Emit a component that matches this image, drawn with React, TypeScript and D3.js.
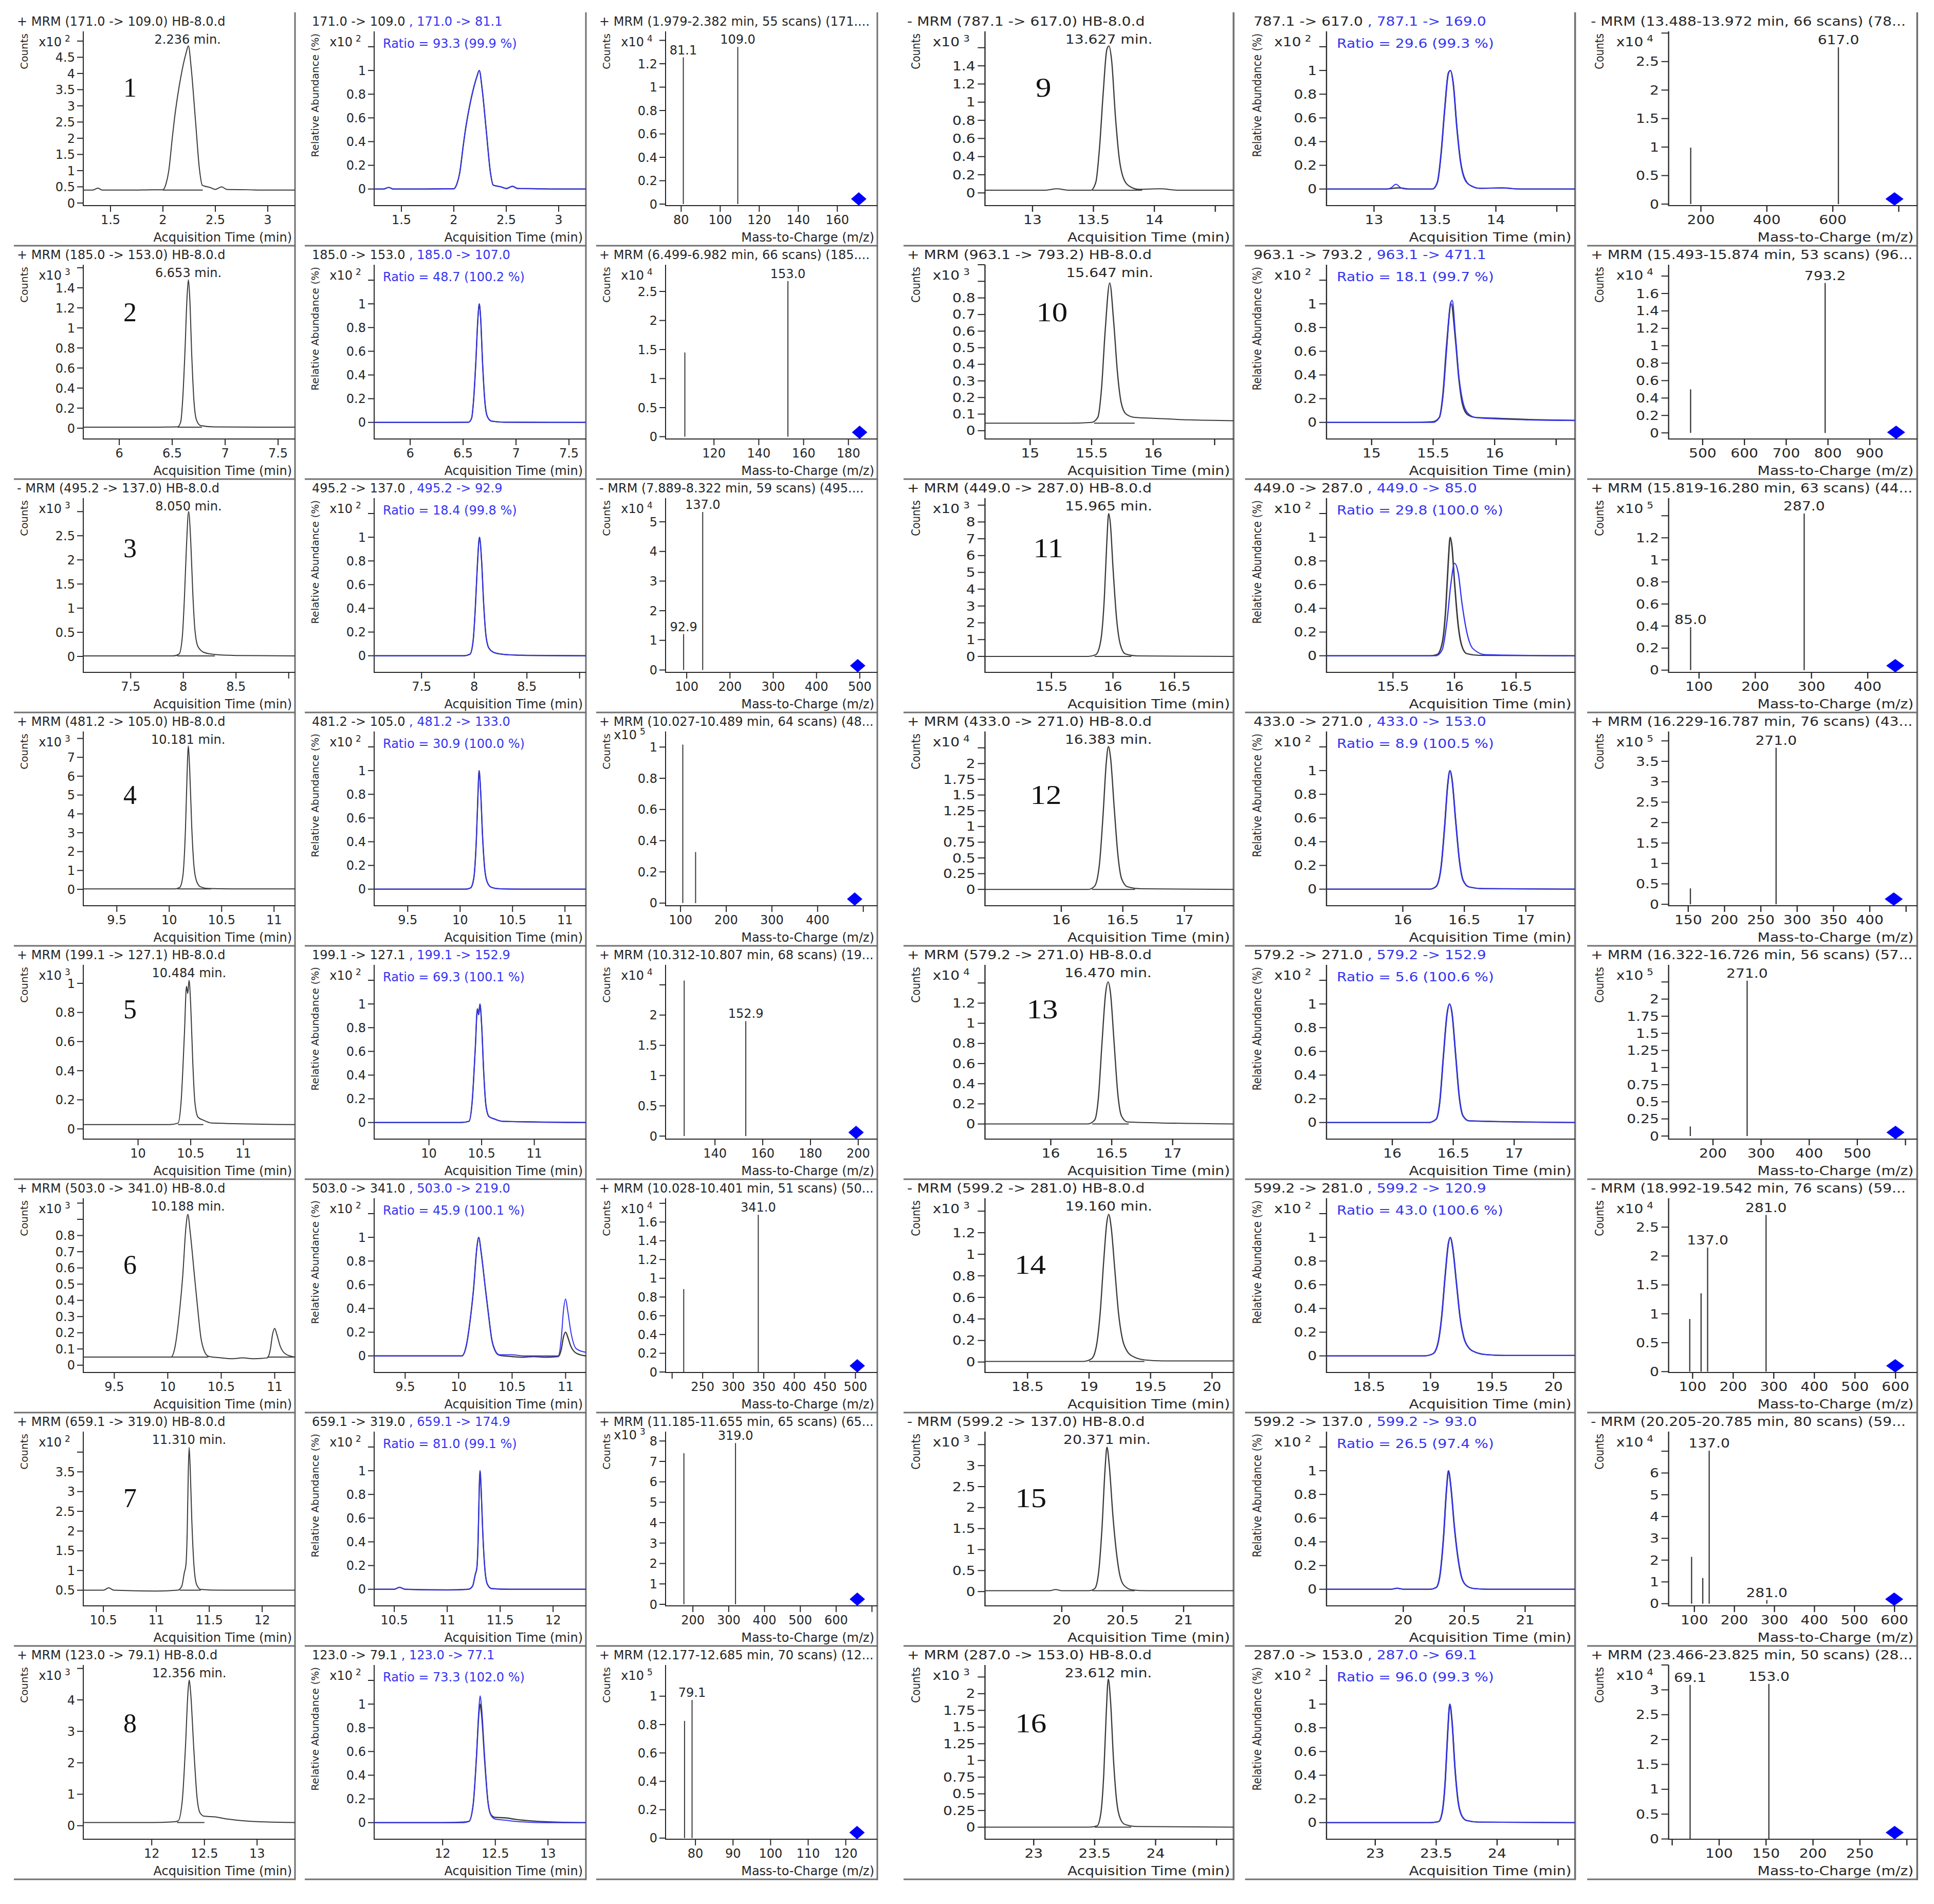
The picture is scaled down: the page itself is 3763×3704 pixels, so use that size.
import React from 'react';
import * as d3 from 'd3';

// ---------- compounds: 1-8 in the left block, 9-16 in the right block ----------
const compoundIds = [1, 2, 3, 4, 5, 6, 7, 8, 9, 10, 11, 12, 13, 14, 15, 16];
const polarity = ['+', '+', '-', '+', '+', '+', '+', '+', '-', '+', '+', '+', '+', '-', '-', '+'];
const quantTransitions = [
  '171.0 -> 109.0', '185.0 -> 153.0', '495.2 -> 137.0', '481.2 -> 105.0',
  '199.1 -> 127.1', '503.0 -> 341.0', '659.1 -> 319.0', '123.0 -> 79.1',
  '787.1 -> 617.0', '963.1 -> 793.2', '449.0 -> 287.0', '433.0 -> 271.0',
  '579.2 -> 271.0', '599.2 -> 281.0', '599.2 -> 137.0', '287.0 -> 153.0',
];
const qualTransitions = [
  '171.0 -> 81.1', '185.0 -> 107.0', '495.2 -> 92.9', '481.2 -> 133.0',
  '199.1 -> 152.9', '503.0 -> 219.0', '659.1 -> 174.9', '123.0 -> 77.1',
  '787.1 -> 169.0', '963.1 -> 471.1', '449.0 -> 85.0', '433.0 -> 153.0',
  '579.2 -> 152.9', '599.2 -> 120.9', '599.2 -> 93.0', '287.0 -> 69.1',
];
const retentionTimes = [2.236, 6.653, 8.05, 10.181, 10.484, 10.188, 11.31, 12.356,
  13.627, 15.647, 15.965, 16.383, 16.47, 19.16, 20.371, 23.612];
const ratioValues = [
  '93.3 (99.9 %)', '48.7 (100.2 %)', '18.4 (99.8 %)', '30.9 (100.0 %)',
  '69.3 (100.1 %)', '45.9 (100.1 %)', '81.0 (99.1 %)', '73.3 (102.0 %)',
  '29.6 (99.3 %)', '18.1 (99.7 %)', '29.8 (100.0 %)', '8.9 (100.5 %)',
  '5.6 (100.6 %)', '43.0 (100.6 %)', '26.5 (97.4 %)', '96.0 (99.3 %)',
];

// ---------- chromatograms ----------
const chromExp = [2, 3, 3, 3, 3, 3, 2, 3, 3, 3, 3, 4, 4, 3, 3, 3];
const chromYDomains = [
  [-0.08, 5.3], [-0.108, 1.63], [-0.33, 3.28], [-0.87, 8.37],
  [-0.07, 1.127], [-0.045, 1.03], [0.104, 4.52], [-0.43, 5.11],
  [-0.14, 1.78], [-0.05, 1.0], [-0.95, 9.42], [-0.26, 2.51],
  [-0.15, 1.58], [-0.097, 1.52], [-0.34, 3.81], [-0.18, 2.43],
];
const chromYTicks = [
  [0, 0.5, 1, 1.5, 2, 2.5, 3, 3.5, 4, 4.5],
  [0, 0.2, 0.4, 0.6, 0.8, 1, 1.2, 1.4],
  [0, 0.5, 1, 1.5, 2, 2.5],
  [0, 1, 2, 3, 4, 5, 6, 7],
  [0, 0.2, 0.4, 0.6, 0.8, 1],
  [0, 0.1, 0.2, 0.3, 0.4, 0.5, 0.6, 0.7, 0.8],
  [0.5, 1, 1.5, 2, 2.5, 3, 3.5],
  [0, 1, 2, 3, 4],
  [0, 0.2, 0.4, 0.6, 0.8, 1, 1.2, 1.4],
  [0, 0.1, 0.2, 0.3, 0.4, 0.5, 0.6, 0.7, 0.8],
  [0, 1, 2, 3, 4, 5, 6, 7, 8],
  [0, 0.25, 0.5, 0.75, 1, 1.25, 1.5, 1.75, 2],
  [0, 0.2, 0.4, 0.6, 0.8, 1, 1.2],
  [0, 0.2, 0.4, 0.6, 0.8, 1, 1.2],
  [0, 0.5, 1, 1.5, 2, 2.5, 3],
  [0, 0.25, 0.5, 0.75, 1, 1.25, 1.5, 1.75, 2],
];
const chromYUnlabeled = [[5], [1.6], [3], [8], [], [0.9, 1.0], [4], [5], [1.6], [0.9, 1.0], [9], [2.25], [1.4], [1.4], [3.5], [2.25]];
const timeDomains = [
  [1.24, 3.26], [5.66, 7.66], [7.05, 9.06], [9.18, 11.2],
  [9.48, 11.49], [9.21, 11.19], [10.31, 12.31], [11.35, 13.36],
  [12.61, 14.65], [14.633, 16.654], [14.96, 16.98], [15.38, 17.4],
  [15.46, 17.5], [18.154, 20.175], [19.37, 21.41], [22.6, 24.64],
];
const timeTicks = [
  [1.5, 2, 2.5, 3], [6, 6.5, 7, 7.5], [7.5, 8, 8.5], [9.5, 10, 10.5, 11],
  [10, 10.5, 11], [9.5, 10, 10.5, 11], [10.5, 11, 11.5, 12], [12, 12.5, 13],
  [13, 13.5, 14], [15, 15.5, 16], [15.5, 16, 16.5], [16, 16.5, 17],
  [16, 16.5, 17], [18.5, 19, 19.5, 20], [20, 20.5, 21], [23, 23.5, 24],
];
const timeUnlabeled = [[], [], [9], [], [], [], [], [], [14.5], [16.5], [], [], [], [], [], [24.5]];
const baselines = [0.4, 0.01, 0.01, 0.02, 0.03, 0.05, 0.5, 0.1, 0.03, 0.045, 0, 0, 0, 0.005, 0.02, 0];
const peakWindows = [
  [[2.0, 2.38]], [[6.55, 6.78]], [[7.94, 8.3]], [[10.08, 10.4]],
  [[10.38, 10.62]], [[10.03, 10.38], [10.93, 11.19]], [[11.22, 11.42]], [[12.24, 12.5]],
  [[13.49, 13.9]], [[15.52, 15.85]], [[15.85, 16.15]], [[16.25, 16.6]],
  [[16.34, 16.64]], [[19.0, 19.45]], [[20.25, 20.6]], [[23.5, 23.8]],
];
const chromTraces = [
  [[1.24, 0.4], [1.33, 0.4], [1.38, 0.46], [1.42, 0.4], [1.7, 0.4], [1.9, 0.41], [2.0, 0.41], [2.03, 0.6], [2.055, 0.98], [2.09, 2.03], [2.11, 2.6], [2.14, 3.3], [2.17, 3.88], [2.22, 4.62], [2.243, 4.85], [2.27, 4.16], [2.31, 2.57], [2.35, 1.0], [2.375, 0.55], [2.4, 0.52], [2.45, 0.48], [2.5, 0.42], [2.56, 0.5], [2.61, 0.42], [2.8, 0.41], [3.0, 0.4], [3.26, 0.4]],
  [[5.66, 0.01], [6.3, 0.01], [6.55, 0.012], [6.58, 0.06], [6.6, 0.3], [6.62, 0.75], [6.64, 1.3], [6.653, 1.48], [6.665, 1.32], [6.685, 0.72], [6.705, 0.28], [6.73, 0.08], [6.77, 0.025], [6.9, 0.012], [7.66, 0.01]],
  [[7.05, 0.01], [7.9, 0.01], [7.96, 0.05], [7.99, 0.4], [8.01, 1.2], [8.03, 2.3], [8.05, 3.0], [8.07, 2.4], [8.09, 1.3], [8.11, 0.55], [8.14, 0.2], [8.2, 0.08], [8.3, 0.04], [8.5, 0.02], [9.06, 0.01]],
  [[9.18, 0.02], [10.05, 0.02], [10.1, 0.1], [10.13, 0.7], [10.155, 3.2], [10.17, 6.0], [10.181, 7.6], [10.195, 6.4], [10.215, 3.3], [10.235, 1.3], [10.26, 0.45], [10.3, 0.13], [10.38, 0.04], [10.6, 0.02], [11.2, 0.02]],
  [[9.48, 0.03], [10.3, 0.03], [10.38, 0.04], [10.41, 0.2], [10.44, 0.65], [10.46, 0.98], [10.472, 0.93], [10.484, 1.02], [10.5, 0.85], [10.52, 0.45], [10.54, 0.18], [10.57, 0.08], [10.62, 0.06], [10.7, 0.04], [11.49, 0.03]],
  [[9.21, 0.05], [9.9, 0.05], [10.03, 0.05], [10.07, 0.12], [10.11, 0.33], [10.14, 0.55], [10.17, 0.85], [10.188, 0.93], [10.21, 0.82], [10.25, 0.55], [10.28, 0.35], [10.31, 0.17], [10.34, 0.09], [10.38, 0.055], [10.5, 0.045], [10.6, 0.04], [10.7, 0.045], [10.8, 0.04], [10.93, 0.045], [10.96, 0.1], [10.98, 0.19], [11.0, 0.227], [11.02, 0.19], [11.05, 0.12], [11.1, 0.07], [11.19, 0.05]],
  [[10.31, 0.5], [10.5, 0.5], [10.55, 0.56], [10.6, 0.5], [11.0, 0.48], [11.2, 0.5], [11.24, 0.6], [11.265, 0.95], [11.28, 1.15], [11.292, 2.0], [11.302, 3.5], [11.31, 4.12], [11.32, 3.6], [11.335, 2.3], [11.355, 1.15], [11.38, 0.65], [11.42, 0.52], [11.6, 0.5], [12.31, 0.5]],
  [[11.35, 0.1], [12.0, 0.1], [12.2, 0.12], [12.25, 0.15], [12.29, 0.8], [12.32, 2.5], [12.345, 4.3], [12.356, 4.63], [12.37, 4.2], [12.4, 2.4], [12.43, 0.9], [12.46, 0.4], [12.5, 0.3], [12.6, 0.28], [12.7, 0.22], [12.8, 0.18], [13.0, 0.13], [13.36, 0.1]],
  [[12.61, 0.03], [13.1, 0.03], [13.2, 0.045], [13.3, 0.03], [13.48, 0.03], [13.52, 0.12], [13.55, 0.5], [13.58, 1.1], [13.61, 1.58], [13.627, 1.62], [13.65, 1.45], [13.68, 0.85], [13.71, 0.4], [13.75, 0.15], [13.8, 0.07], [13.87, 0.04], [14.05, 0.045], [14.2, 0.03], [14.65, 0.03]],
  [[14.633, 0.045], [15.3, 0.045], [15.5, 0.05], [15.55, 0.08], [15.58, 0.25], [15.61, 0.6], [15.647, 0.89], [15.68, 0.65], [15.71, 0.35], [15.74, 0.17], [15.78, 0.1], [15.85, 0.08], [16.0, 0.075], [16.3, 0.065], [16.654, 0.06]],
  [[14.96, 0], [15.8, 0], [15.86, 0.1], [15.9, 0.9], [15.93, 3.5], [15.95, 6.8], [15.965, 8.5], [15.98, 7.8], [16.0, 5.3], [16.03, 2.2], [16.06, 0.7], [16.1, 0.15], [16.2, 0.03], [16.98, 0]],
  [[15.38, 0], [16.22, 0], [16.27, 0.05], [16.31, 0.4], [16.34, 1.2], [16.365, 2.0], [16.383, 2.27], [16.4, 2.1], [16.43, 1.3], [16.46, 0.55], [16.49, 0.17], [16.54, 0.04], [16.65, 0.01], [17.4, 0]],
  [[15.46, 0], [16.3, 0], [16.36, 0.04], [16.39, 0.25], [16.42, 0.8], [16.45, 1.3], [16.47, 1.41], [16.49, 1.3], [16.52, 0.8], [16.55, 0.3], [16.58, 0.08], [16.63, 0.02], [17.5, 0]],
  [[18.154, 0.005], [18.95, 0.005], [19.02, 0.03], [19.06, 0.15], [19.09, 0.45], [19.12, 0.95], [19.145, 1.3], [19.16, 1.37], [19.18, 1.25], [19.21, 0.85], [19.24, 0.45], [19.27, 0.22], [19.31, 0.1], [19.36, 0.05], [19.45, 0.02], [19.6, 0.01], [20.175, 0.01]],
  [[19.37, 0.02], [19.9, 0.02], [19.95, 0.05], [20.0, 0.02], [20.22, 0.02], [20.27, 0.07], [20.3, 0.4], [20.33, 1.5], [20.355, 2.9], [20.371, 3.44], [20.39, 3.0], [20.42, 1.8], [20.45, 0.9], [20.48, 0.35], [20.52, 0.12], [20.58, 0.04], [20.7, 0.02], [21.41, 0.02]],
  [[22.6, 0], [23.45, 0], [23.52, 0.02], [23.55, 0.2], [23.575, 0.8], [23.595, 1.7], [23.612, 2.22], [23.63, 1.9], [23.655, 1.0], [23.68, 0.4], [23.71, 0.13], [23.75, 0.04], [23.85, 0.01], [24.64, 0]],
];
// qualifier traces that differ visibly from the quantifier (relative units, x10^2 %)
const qualTraces = [
  null, null, null, null, null,
  [[9.21, 0], [9.9, 0], [10.03, 0], [10.07, 0.08], [10.11, 0.32], [10.14, 0.57], [10.17, 0.91], [10.188, 1.0], [10.21, 0.88], [10.25, 0.57], [10.28, 0.35], [10.31, 0.14], [10.34, 0.05], [10.38, 0.01], [10.5, 0.01], [10.6, 0], [10.7, 0], [10.8, 0], [10.93, 0], [10.96, 0.15], [10.98, 0.38], [11.0, 0.48], [11.02, 0.38], [11.05, 0.2], [11.1, 0.06], [11.19, 0.03]],
  null,
  [[11.35, 0], [12.0, 0], [12.2, 0], [12.25, 0.01], [12.29, 0.15], [12.32, 0.55], [12.345, 0.97], [12.356, 1.07], [12.37, 0.97], [12.4, 0.54], [12.43, 0.18], [12.46, 0.06], [12.5, 0.03], [12.6, 0.02], [12.7, 0.01], [13.0, 0], [13.36, 0]],
  [[12.61, 0], [13.1, 0], [13.14, 0.01], [13.18, 0.04], [13.22, 0.01], [13.26, 0], [13.48, 0], [13.52, 0.055], [13.55, 0.29], [13.58, 0.67], [13.61, 0.98], [13.627, 1.0], [13.65, 0.89], [13.68, 0.52], [13.71, 0.23], [13.75, 0.07], [13.8, 0.025], [13.87, 0.006], [14.05, 0.008], [14.2, 0], [14.65, 0]],
  [[14.633, 0], [15.5, 0], [15.55, 0.04], [15.58, 0.22], [15.61, 0.62], [15.64, 1.0], [15.655, 1.03], [15.68, 0.75], [15.71, 0.38], [15.74, 0.18], [15.78, 0.08], [15.85, 0.04], [16.0, 0.03], [16.3, 0.02], [16.654, 0.015]],
  [[14.96, 0], [15.85, 0], [15.9, 0.05], [15.94, 0.3], [15.97, 0.6], [16.0, 0.78], [16.03, 0.7], [16.06, 0.45], [16.1, 0.2], [16.15, 0.06], [16.25, 0.01], [16.98, 0]],
  null, null, null, null, null,
];

// ---------- ratio (qualifier overlay) axes ----------
const ratioYDomain = [-0.14, 1.33];
const ratioYTicks = [0, 0.2, 0.4, 0.6, 0.8, 1];
const ratioYUnlabeled = [1.2];

// ---------- product ion spectra ----------
const specTitles = [
  '+ MRM (1.979-2.382 min, 55 scans) (171....', '+ MRM (6.499-6.982 min, 66 scans) (185....',
  '- MRM (7.889-8.322 min, 59 scans) (495....', '+ MRM (10.027-10.489 min, 64 scans) (48...',
  '+ MRM (10.312-10.807 min, 68 scans) (19...', '+ MRM (10.028-10.401 min, 51 scans) (50...',
  '+ MRM (11.185-11.655 min, 65 scans) (65...', '+ MRM (12.177-12.685 min, 70 scans) (12...',
  '- MRM (13.488-13.972 min, 66 scans) (78...', '+ MRM (15.493-15.874 min, 53 scans) (96...',
  '+ MRM (15.819-16.280 min, 63 scans) (44...', '+ MRM (16.229-16.787 min, 76 scans) (43...',
  '+ MRM (16.322-16.726 min, 56 scans) (57...', '- MRM (18.992-19.542 min, 76 scans) (59...',
  '- MRM (20.205-20.785 min, 80 scans) (59...', '+ MRM (23.466-23.825 min, 50 scans) (28...',
];
const specExp = [4, 4, 4, 5, 4, 4, 3, 5, 4, 4, 5, 5, 5, 4, 4, 4];
const specYDomains = [
  [-0.013, 1.477], [-0.04, 2.96], [-0.08, 5.8], [-0.017, 1.1],
  [-0.05, 2.83], [-0.005, 1.854], [-0.075, 8.46], [-0.008, 1.22],
  [-0.027, 3.03], [-0.07, 1.93], [-0.02, 1.56], [-0.035, 4.23],
  [-0.045, 2.5], [-0.015, 3.0], [-0.1, 7.9], [-0.005, 3.5],
];
const specYTicks = [
  [0, 0.2, 0.4, 0.6, 0.8, 1, 1.2], [0, 0.5, 1, 1.5, 2, 2.5], [0, 1, 2, 3, 4, 5], [0, 0.2, 0.4, 0.6, 0.8, 1],
  [0, 0.5, 1, 1.5, 2], [0, 0.2, 0.4, 0.6, 0.8, 1, 1.2, 1.4, 1.6], [0, 1, 2, 3, 4, 5, 6, 7, 8], [0, 0.2, 0.4, 0.6, 0.8, 1],
  [0, 0.5, 1, 1.5, 2, 2.5], [0, 0.2, 0.4, 0.6, 0.8, 1, 1.2, 1.4, 1.6], [0, 0.2, 0.4, 0.6, 0.8, 1, 1.2], [0, 0.5, 1, 1.5, 2, 2.5, 3, 3.5],
  [0, 0.25, 0.5, 0.75, 1, 1.25, 1.5, 1.75, 2], [0, 0.5, 1, 1.5, 2, 2.5], [0, 1, 2, 3, 4, 5, 6], [0, 0.5, 1, 1.5, 2, 2.5, 3],
];
const specYUnlabeled = [[1.4], [], [], [], [2.5], [1.8], [], [], [3], [1.8], [1.4], [4], [2.25], [], [7], [3.5]];
const mzDomains = [
  [72, 180.5], [98.4, 192.9], [51.2, 540.5], [67.3, 530.7],
  [119.3, 208], [189.3, 535.8], [123.7, 715], [72.05, 128.4],
  [102, 856], [418.5, 1013.6], [45.9, 488], [123, 465.3],
  [107.8, 624.4], [40.9, 653.4], [35.6, 656.7], [46.2, 311],
];
const mzTicks = [
  [80, 100, 120, 140, 160], [120, 140, 160, 180], [100, 200, 300, 400, 500], [100, 200, 300, 400],
  [140, 160, 180, 200], [250, 300, 350, 400, 450, 500], [200, 300, 400, 500, 600], [80, 90, 100, 110, 120],
  [200, 400, 600], [500, 600, 700, 800, 900], [100, 200, 300, 400], [150, 200, 250, 300, 350, 400],
  [200, 300, 400, 500], [100, 200, 300, 400, 500, 600], [100, 200, 300, 400, 500, 600], [100, 150, 200, 250],
];
const mzUnlabeled = [[], [], [], [500], [], [200], [700], [], [800], [], [], [450], [600], [], [], [50, 300]];
const specPeaks = [
  [[81.1, 1.255], [109.0, 1.344]],
  [[107.0, 1.45], [153.0, 2.68]],
  [[92.9, 1.21], [137.0, 5.33]],
  [[105.0, 1.016], [133.0, 0.327]],
  [[127.1, 2.57], [152.9, 1.9]],
  [[219.0, 0.885], [341.0, 1.677]],
  [[174.9, 7.4], [319.0, 7.9]],
  [[77.1, 0.826], [79.1, 0.974]],
  [[169.0, 0.99], [617.0, 2.75]],
  [[471.1, 0.5], [793.2, 1.72]],
  [[85.0, 0.39], [287.0, 1.42]],
  [[153.0, 0.39], [271.0, 3.83]],
  [[152.9, 0.14], [271.0, 2.27]],
  [[93.0, 0.91], [120.9, 1.355], [137.0, 2.146], [281.0, 2.71]],
  [[93.0, 2.15], [120.9, 1.18], [137.0, 7.02], [281.0, 0.17]],
  [[69.1, 3.1], [153.0, 3.12]],
];
const specLabels = [
  [81.1, 109.0], [153.0], [92.9, 137.0], [], [152.9], [341.0], [319.0], [79.1],
  [617.0], [793.2], [85.0, 287.0], [271.0], [271.0], [137.0, 281.0], [137.0, 281.0], [69.1, 153.0],
];
const precursors = [171.0, 185.0, 495.2, 481.2, 199.1, 503.0, 659.1, 123.0,
  787.1, 963.1, 449.0, 433.0, 579.2, 599.2, 599.2, 287.0];

// ---------- layout ----------
const W = 3763;
const H = 3704;
const ROW0 = 24;
const ROW_H = 454;
const PANEL_W = 547;
const PANEL_DX = [0, 566, 1133];
const BLOCKS = [{ x: 27, sx: 1 }, { x: 1758, sx: 1.174 }];
const AX = 135;
const AT = 37;
const AY = 376;
const numberX = [226, 226, 226, 226, 226, 226, 226, 226, 232, 246, 240, 236, 230, 210, 211, 211];
const numberY = [146, 129, 134, 160, 123, 166, 166, 150];

const FONT = '"DejaVu Sans", "Liberation Sans", Arial, sans-serif';
const INK = '#262626';
const TRACE = '#3a3a3a';
const BLUE = '#3434f2';
const SEP = '#707070';

function Axes({ x, y, yTicks, yMinor, xTicks, xMinor, exp, yLabel, xLabel }) {
  // the exponent moves up when the highest labelled tick sits at the top of the axis
  const crowded = d3.min(yTicks, (v) => y(v)) < 72;
  const expY = crowded ? 52 : 66;
  return (
    <g fontFamily={FONT} fill={INK}>
      <line x1={AX} x2={AX} y1={AT} y2={AY + 1} stroke={INK} strokeWidth={2} />
      <line x1={AX} x2={PANEL_W} y1={AY} y2={AY} stroke={INK} strokeWidth={2} />
      {yTicks.concat(yMinor).map((v) => (
        <line key={'yt' + v} x1={AX - 12} x2={AX} y1={y(v)} y2={y(v)} stroke={INK} strokeWidth={2} />
      ))}
      {yTicks.map((v) => (
        <text key={'yl' + v} x={AX - 16} y={y(v)} dy="0.36em" textAnchor="end" fontSize={24}>{v}</text>
      ))}
      {xTicks.concat(xMinor).map((v) => (
        <line key={'xt' + v} x1={x(v)} x2={x(v)} y1={AY} y2={AY + 12} stroke={INK} strokeWidth={2} />
      ))}
      {xTicks.map((v) => (
        <text key={'xl' + v} x={x(v)} y={412} textAnchor="middle" fontSize={24}>{v}</text>
      ))}
      <text x={PANEL_W - 6} y={446} textAnchor="end" fontSize={24}>{xLabel}</text>
      <text x={crowded ? AX - 56 : AX - 42} y={expY} textAnchor="end" fontSize={24}>x10</text>
      <text x={crowded ? AX - 50 : AX - 36} y={expY - 9} fontSize={17}>{exp}</text>
      <text transform={`translate(27,41) rotate(-90)`} textAnchor="end" fontSize={20}>{yLabel}</text>
    </g>
  );
}

function Frame() {
  return (
    <g stroke={SEP} strokeWidth={3}>
      <line x1={0} x2={PANEL_W} y1={ROW_H} y2={ROW_H} />
      <line x1={PANEL_W} x2={PANEL_W} y1={0} y2={ROW_H + 1.5} />
    </g>
  );
}

function ChromPanel({ i }) {
  const x = d3.scaleLinear().domain(timeDomains[i]).range([AX, PANEL_W]);
  const y = d3.scaleLinear().domain(chromYDomains[i]).range([AY, AT]);
  const line = d3.line().x((d) => x(d[0])).y((d) => y(d[1])).curve(d3.curveMonotoneX);
  const rt = retentionTimes[i];
  const row = i % 8;
  return (
    <g>
      <Frame />
      <Axes x={x} y={y} yTicks={chromYTicks[i]} yMinor={chromYUnlabeled[i]} xTicks={timeTicks[i]}
        xMinor={timeUnlabeled[i]} exp={chromExp[i]} yLabel="Counts" xLabel="Acquisition Time (min)" />
      {peakWindows[i].map(([a, b]) => (
        <line key={a} x1={x(a)} x2={x(b)} y1={y(baselines[i])} y2={y(baselines[i])} stroke={TRACE} strokeWidth={2} />
      ))}
      <path d={line(chromTraces[i])} fill="none" stroke={TRACE} strokeWidth={2} />
      <text x={6} y={26} fontFamily={FONT} fontSize={24} fill={INK}>
        {`${polarity[i]} MRM (${quantTransitions[i]}) HB-8.0.d`}
      </text>
      <text x={x(rt)} y={61} textAnchor="middle" fontFamily={FONT} fontSize={24} fill={INK}>
        {`${rt.toFixed(3)} min.`}
      </text>
      <text x={numberX[i]} y={numberY[row]} dy="0.35em" textAnchor="middle"
        fontFamily='"Liberation Serif", "Times New Roman", serif' fontSize={52} fill="#111">
        {compoundIds[i]}
      </text>
    </g>
  );
}

function RatioPanel({ i }) {
  const x = d3.scaleLinear().domain(timeDomains[i]).range([AX, PANEL_W]);
  const y = d3.scaleLinear().domain(ratioYDomain).range([AY, AT]);
  const line = d3.line().x((d) => x(d[0])).y((d) => y(d[1])).curve(d3.curveMonotoneX);
  const base = baselines[i];
  const top = d3.max(chromTraces[i], (d) => d[1]);
  const quant = chromTraces[i].map(([t, v]) => [t, (v - base) / (top - base)]);
  const qual = qualTraces[i] || quant;
  return (
    <g>
      <Frame />
      <Axes x={x} y={y} yTicks={ratioYTicks} yMinor={ratioYUnlabeled} xTicks={timeTicks[i]}
        xMinor={timeUnlabeled[i]} exp={2} yLabel="Relative Abundance (%)" xLabel="Acquisition Time (min)" />
      <path d={line(quant)} fill="none" stroke={TRACE} strokeWidth={2.4} />
      <path d={line(qual)} fill="none" stroke={BLUE} strokeWidth={2} />
      <text x={14} y={26} fontFamily={FONT} fontSize={24} fill={INK}>
        {quantTransitions[i]}
        <tspan fill={BLUE}>{` , ${qualTransitions[i]}`}</tspan>
      </text>
      <text x={152} y={69} fontFamily={FONT} fontSize={24} fill={BLUE}>{`Ratio = ${ratioValues[i]}`}</text>
    </g>
  );
}

function SpectrumPanel({ i }) {
  const x = d3.scaleLinear().domain(mzDomains[i]).range([AX, PANEL_W]);
  const y = d3.scaleLinear().domain(specYDomains[i]).range([AY, AT]);
  const px = x(precursors[i]);
  const labels = specLabels[i];
  return (
    <g>
      <Frame />
      <Axes x={x} y={y} yTicks={specYTicks[i]} yMinor={specYUnlabeled[i]} xTicks={mzTicks[i]}
        xMinor={mzUnlabeled[i]} exp={specExp[i]} yLabel="Counts" xLabel="Mass-to-Charge (m/z)" />
      {specPeaks[i].map(([mz, h]) => (
        <line key={mz} x1={x(mz)} x2={x(mz)} y1={y(0)} y2={y(h)} stroke={TRACE} strokeWidth={2} />
      ))}
      {specPeaks[i].filter(([mz]) => labels.includes(mz)).map(([mz, h]) => (
        <text key={'l' + mz} x={x(mz)} y={y(h) - 6} textAnchor="middle" fontFamily={FONT} fontSize={24} fill={INK}>
          {mz.toFixed(1)}
        </text>
      ))}
      <path d={`M${px},${363 - 13}L${px + 15},363L${px},${363 + 13}L${px - 15},363Z`} fill="#0000ff" />
      <text x={6} y={26} fontFamily={FONT} fontSize={24} fill={INK}>{specTitles[i]}</text>
    </g>
  );
}

export default function App() {
  const kinds = [ChromPanel, RatioPanel, SpectrumPanel];
  return (
    <svg width={W} height={H} viewBox={`0 0 ${W} ${H}`}
      style={{ position: 'absolute', left: 0, top: 0, display: 'block', background: '#fff' }}>
      <rect width={W} height={H} fill="#fff" />
      {compoundIds.map((id, i) => {
        const block = BLOCKS[i < 8 ? 0 : 1];
        const ty = ROW0 + (i % 8) * ROW_H;
        return kinds.map((Kind, k) => (
          <g key={`${id}-${k}`} transform={`translate(${block.x + PANEL_DX[k] * block.sx},${ty}) scale(${block.sx},1)`}>
            <Kind i={i} />
          </g>
        ));
      })}
    </svg>
  );
}
